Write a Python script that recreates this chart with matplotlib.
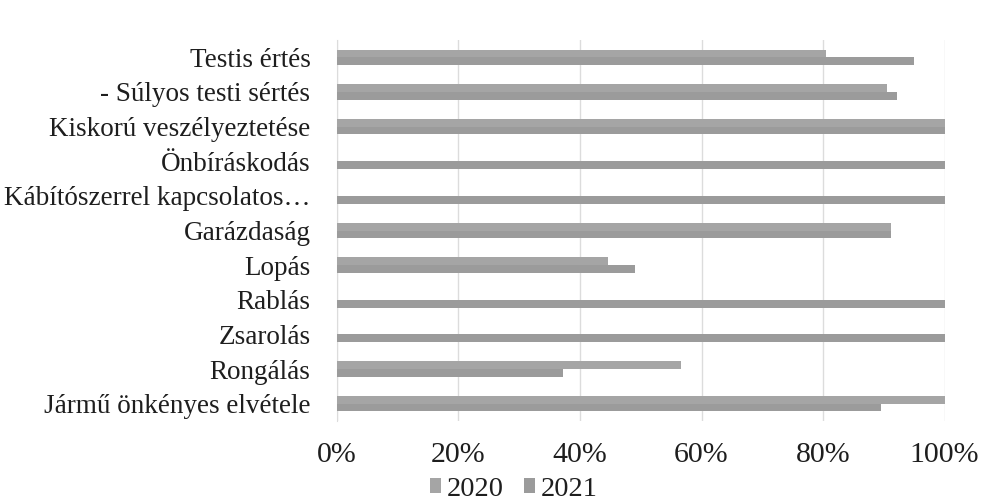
import matplotlib
matplotlib.use("Agg")
import matplotlib.pyplot as plt
from matplotlib.ticker import FuncFormatter
import numpy as np

categories = ["Testis értés", "- Súlyos testi sértés", "Kiskorú veszélyeztetése",
              "Önbíráskodás", "Kábítószerrel kapcsolatos…", "Garázdaság", "Lopás",
              "Rablás", "Zsarolás", "Rongálás", "Jármű önkényes elvétele"]
values_2020 = [80.5, 90.6, 100, 0, 0, 91.2, 44.6, 0, 0, 56.7, 100]
values_2021 = [94.9, 92.1, 100, 100, 100, 91.2, 49.0, 100, 100, 37.2, 89.6]
series_names = ["2020", "2021"]
xticks = [0, 20, 40, 60, 80, 100]

plt.rcParams['font.family'] = ['Liberation Serif', 'DejaVu Serif']

fig = plt.figure(figsize=(9.85, 5.0), dpi=100)
ax = fig.add_axes([0.342, 0.158, 0.617, 0.762])

n = len(categories)
y = np.arange(n)
h = 0.225
c2020 = "#a5a5a5"
c2021 = "#9b9b9b"
ax.barh(y - h / 2, values_2020, height=h, color=c2020, label=series_names[0], zorder=3)
ax.barh(y + h / 2, values_2021, height=h, color=c2021, label=series_names[1], zorder=3)

ax.set_ylim(n - 0.5, -0.5)
ax.set_xlim(0, 100)
ax.set_yticks(y)
ax.set_yticklabels(categories, fontsize=19.5, color="#1e1e1e")
ax.set_xticks(xticks)
ax.xaxis.set_major_formatter(FuncFormatter(lambda v, p: f"{int(v)}%"))
ax.tick_params(axis='x', labelsize=21.5, length=0, pad=15, labelcolor="#1e1e1e")
ax.tick_params(axis='y', length=0, pad=19)
ax.grid(axis='x', color="#dcdcdc", linewidth=1, zorder=0)
for s in ["top", "right", "bottom"]:
    ax.spines[s].set_visible(False)
ax.spines["left"].set_color("#dcdcdc")

leg = fig.legend(loc="center", bbox_to_anchor=(514 / 985, 1 - 489 / 500), ncol=2,
                 frameon=False, fontsize=20.5, handlelength=0.4, handleheight=0.45,
                 handletextpad=0.2, columnspacing=0.7, labelcolor="#1e1e1e")

fig.savefig("out.png", dpi=100)
